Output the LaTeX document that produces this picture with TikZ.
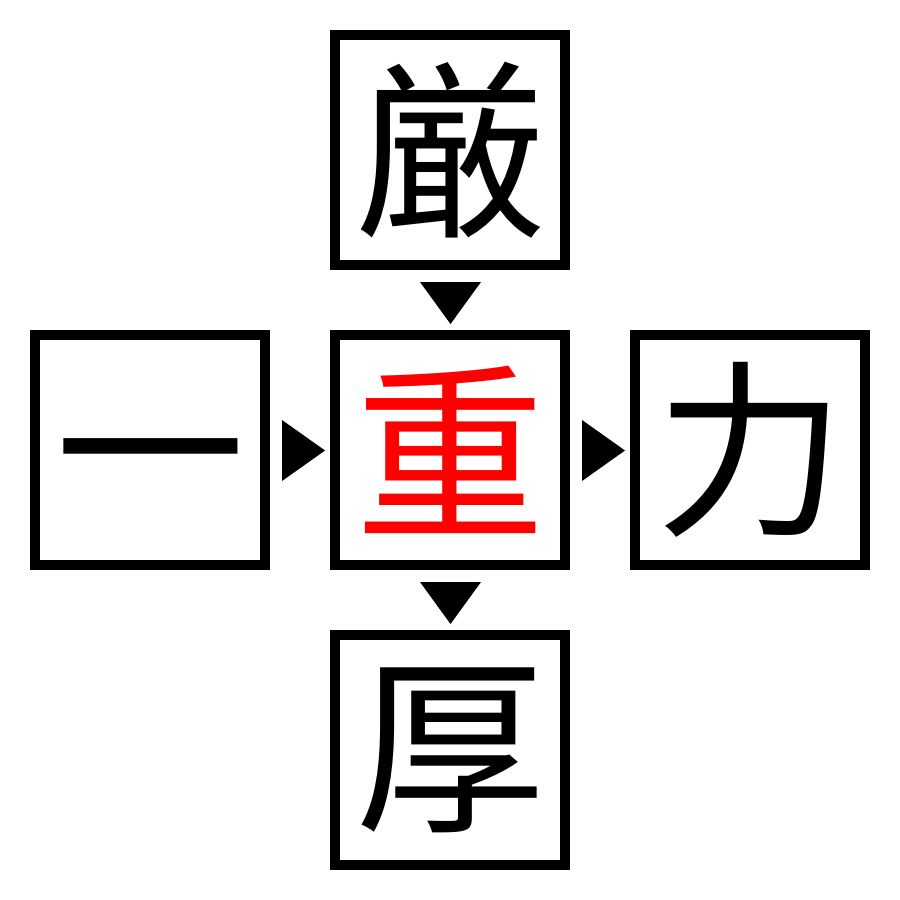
\documentclass[tikz,border=0pt]{standalone}
\usepackage{fontspec}
\newfontfamily\cjk{Noto Sans CJK JP}
\begin{document}
\begin{tikzpicture}[x=1pt,y=-1pt,
  kbox/.style={draw=black,line width=10pt,minimum size=230pt,inner sep=0pt,font=\cjk\fontsize{190}{190}\selectfont},
  tri/.style={fill=black,draw=none}]
\useasboundingbox (0,0) rectangle (900,900);
\node[kbox] (top) at (450,150) {厳};
\node[kbox] (left) at (150,450) {};
\node (lefttext) at (left.center) [yshift=-30pt,inner sep=0pt,font=\cjk\fontsize{190}{190}\selectfont] {一};
\node[kbox,text=red] (center) at (450,450) {重};
\node[kbox] (right) at (750,450) {力};
\node[kbox] (bottom) at (450,750) {厚};
\fill[tri] (420,282) -- (481,282) -- (450.5,324) -- cycle;
\fill[tri] (420,582) -- (481,582) -- (450.5,624) -- cycle;
\fill[tri] (282,420) -- (282,481) -- (325,450.5) -- cycle;
\fill[tri] (582,420) -- (582,481) -- (625,450.5) -- cycle;
\end{tikzpicture}
\end{document}
